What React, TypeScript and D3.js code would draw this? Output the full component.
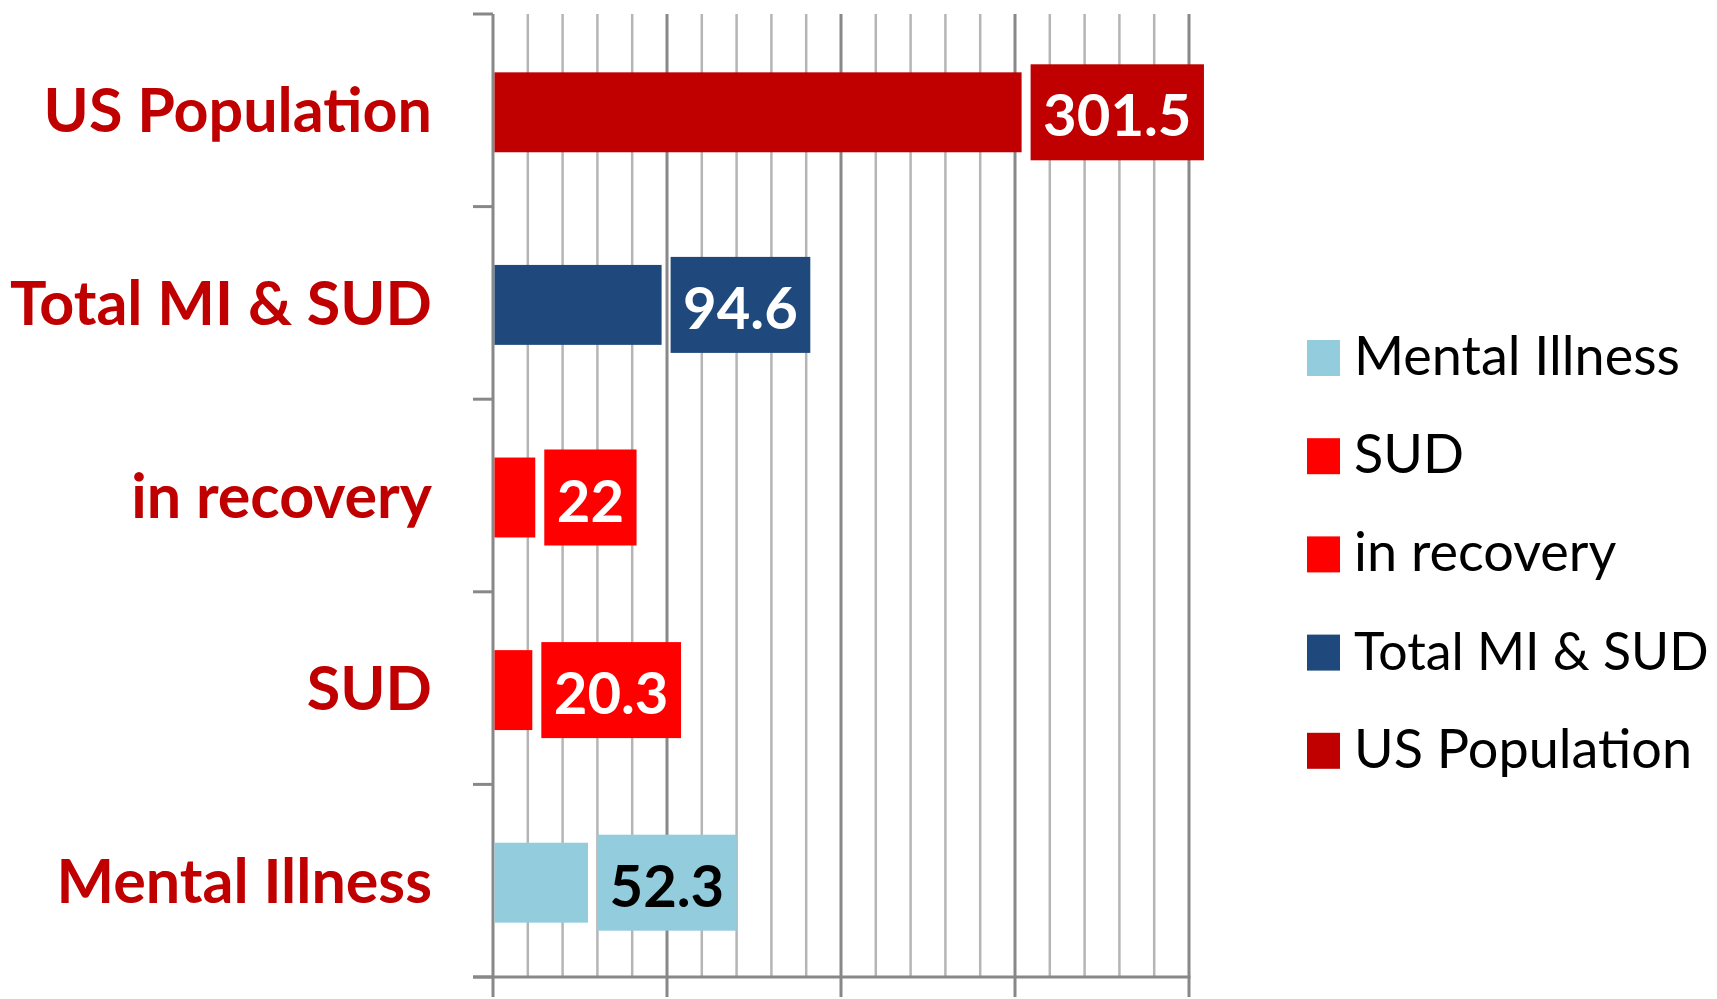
import React, { useEffect, useRef } from "react";
import * as d3 from "d3";

const categories = ["US Population", "Total MI & SUD", "in recovery", "SUD", "Mental Illness"];
const values = [301.5, 94.6, 22, 20.3, 52.3];
const barColors = ["#C00000", "#1F497D", "#FF0000", "#FF0000", "#93CDDD"];
const valueTextColors = ["#FFFFFF", "#FFFFFF", "#FFFFFF", "#FFFFFF", "#000000"];
const legendLabels = ["Mental Illness", "SUD", "in recovery", "Total MI & SUD", "US Population"];
const legendColors = ["#93CDDD", "#FF0000", "#FF0000", "#1F497D", "#C00000"];
const xDomain = [0, 400];
const majorTicks = [0, 100, 200, 300, 400];

const W = 1717;
const H = 999;
const FONT = "Lato, 'Open Sans', sans-serif";

export default function App() {
  const ref = useRef<SVGSVGElement>(null);

  useEffect(() => {
    const svg = d3.select(ref.current);
    svg.selectAll("*").remove();

    const x = d3.scaleLinear().domain(xDomain).range([493, 1189]);
    const y = d3.scaleBand<string>().domain(categories).range([14, 977]).padding(0);
    const bw = y.bandwidth();
    const barH = bw * 0.415;
    const boxH = 96;

    const grid = svg.append("g");
    const minor = x.ticks(20);
    grid.selectAll("line.minor")
      .data(minor.filter((t) => !majorTicks.includes(t)))
      .join("line")
      .attr("x1", (d) => x(d)).attr("x2", (d) => x(d))
      .attr("y1", 14).attr("y2", 977)
      .attr("stroke", "#b5b5b5").attr("stroke-width", 2.5);
    grid.selectAll("line.major")
      .data(majorTicks.slice(1))
      .join("line")
      .attr("x1", (d) => x(d)).attr("x2", (d) => x(d))
      .attr("y1", 14).attr("y2", 997)
      .attr("stroke", "#888888").attr("stroke-width", 3);

    // axes
    const ax = svg.append("g").attr("stroke", "#888888").attr("stroke-width", 3);
    ax.append("line").attr("x1", x(0)).attr("x2", x(0)).attr("y1", 14).attr("y2", 997);
    ax.append("line").attr("x1", 473).attr("x2", x(400) + 1.5).attr("y1", 977).attr("y2", 977);
    const bounds = [...categories.map((c) => y(c)!), 977];
    ax.selectAll("line.yt").data(bounds).join("line")
      .attr("x1", 473).attr("x2", x(0)).attr("y1", (d) => d).attr("y2", (d) => d);

    // bars
    const g = svg.append("g");
    categories.forEach((c, i) => {
      const cy = y(c)! + bw / 2 + 2;
      const barEnd = x(values[i]) + 4;
      g.append("rect")
        .attr("x", x(0) + 1.5)
        .attr("y", cy - barH / 2)
        .attr("width", barEnd - x(0) - 1.5)
        .attr("height", barH)
        .attr("fill", barColors[i]);
      const boxX = barEnd + 9;
      const t = g.append("text")
        .attr("font-family", FONT)
        .attr("font-weight", 700)
        .attr("font-size", 58)
        .attr("fill", valueTextColors[i])
        .attr("text-anchor", "middle")
        .attr("y", cy + 24)
        .text(String(values[i]));
      const tw = (t.node() as SVGTextElement).getComputedTextLength();
      const boxW = tw + 25;
      g.insert("rect", () => t.node() as any)
        .attr("x", boxX)
        .attr("y", cy - boxH / 2)
        .attr("width", boxW)
        .attr("height", boxH)
        .attr("fill", barColors[i]);
      t.attr("x", boxX + boxW / 2);

      svg.append("text")
        .attr("font-family", FONT)
        .attr("font-weight", 700)
        .attr("font-size", 61)
        .attr("fill", "#C00000")
        .attr("text-anchor", "end")
        .attr("x", 432)
        .attr("y", y(c)! + bw / 2 + 22)
        .text(c);
    });

    // legend
    const lg = svg.append("g");
    const maxW = W - 1354 - 8;
    legendLabels.forEach((l, i) => {
      const cy = 358 + i * 98.2;
      lg.append("rect").attr("x", 1307).attr("y", cy - 18).attr("width", 33).attr("height", 36).attr("fill", legendColors[i]);
      const t = lg.append("text")
        .attr("font-family", FONT)
        .attr("font-size", 54)
        .attr("fill", "#000")
        .attr("x", 1354)
        .attr("y", cy + 17)
        .text(l);
      const w = (t.node() as SVGTextElement).getComputedTextLength();
      if (w > maxW) {
        t.attr("font-size", Math.floor((54 * maxW) / w * 10) / 10);
      }
    });
  }, []);

  return (
    <svg
      ref={ref}
      width={W}
      height={H}
      style={{ position: "absolute", left: 0, top: 0, background: "#fff" }}
    />
  );
}
